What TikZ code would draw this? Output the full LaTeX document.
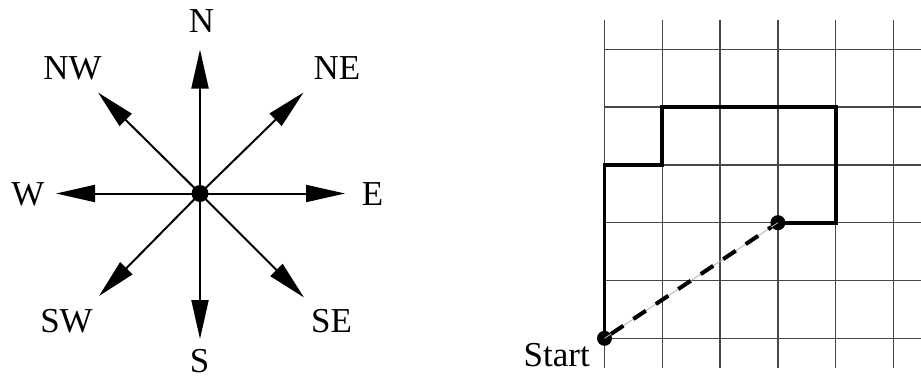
\documentclass[tikz,border=0pt]{standalone}
\usepackage{fontspec}
\setmainfont{Liberation Serif}
\usetikzlibrary{arrows.meta}
\begin{document}
\begin{tikzpicture}[x=1pt,y=-1pt,
  lbl/.style={font=\fontsize{35}{40}\selectfont, inner sep=0pt},
  dot/.style={circle, fill=black, inner sep=0pt, minimum size=#1},
  ray/.style={line width=2pt, -{Triangle[length=39pt,width=17pt]}},
  gridline/.style={line width=1.4pt, black!72},
  route/.style={line width=3.8pt, line join=miter},
  dashpath/.style={line width=4pt, dash pattern=on 15pt off 12pt}]
\useasboundingbox (0,0) rectangle (921,383);
% compass
\node[dot=17pt] (c) at (200,193.5) {};
\coordinate (tN) at (200,49.5);
\coordinate (tS) at (200,339);
\coordinate (tE) at (345,193.5);
\coordinate (tW) at (56,193.5);
\coordinate (tNE) at (303.5,92.5);
\coordinate (tNW) at (98,92.5);
\coordinate (tSE) at (304,297.5);
\coordinate (tSW) at (99,296);
\foreach \t in {tN,tS,tE,tW,tNE,tNW,tSE,tSW}
  \draw[ray] (c.center) -- (\t);
\node[lbl] (lN) at (201.5,21) {N};
\node[lbl] (lS) at (199.5,361) {S};
\node[lbl] (lE) at (372.5,194) {E};
\node[lbl] (lW) at (28,194) {W};
\node[lbl] (lNE) at (337,68) {NE};
\node[lbl] (lNW) at (72.5,68) {NW};
\node[lbl] (lSE) at (331.5,321.5) {SE};
\node[lbl] (lSW) at (66.5,321.5) {SW};
% grid
\foreach \i in {0,...,5} {
  \draw[gridline] ({604.5+57.8*\i},20) -- ({604.5+57.8*\i},368);
  \draw[gridline] (604.5,{49.3+57.8*\i}) -- (921,{49.3+57.8*\i});
}
% route
\coordinate (p1) at (604.5,164.9);
\coordinate (p2) at (662.3,164.9);
\coordinate (p3) at (662.3,107.1);
\coordinate (p4) at (835.7,107.1);
\coordinate (p5) at (835.7,222.7);
\node[dot=15pt] (start) at (604.5,338.3) {};
\node[dot=15pt] (end) at (777.9,222.7) {};
\draw[route] (start.center) -- (p1) -- (p2) -- (p3) -- (p4) -- (p5) -- (end.center);
\draw[line width=0.8pt, black!30] (start.center) -- (end.center);
\draw[dashpath] (start) -- (end);
\node[lbl, anchor=base east] (lstart) at (590,366) {Start};
\end{tikzpicture}
\end{document}
